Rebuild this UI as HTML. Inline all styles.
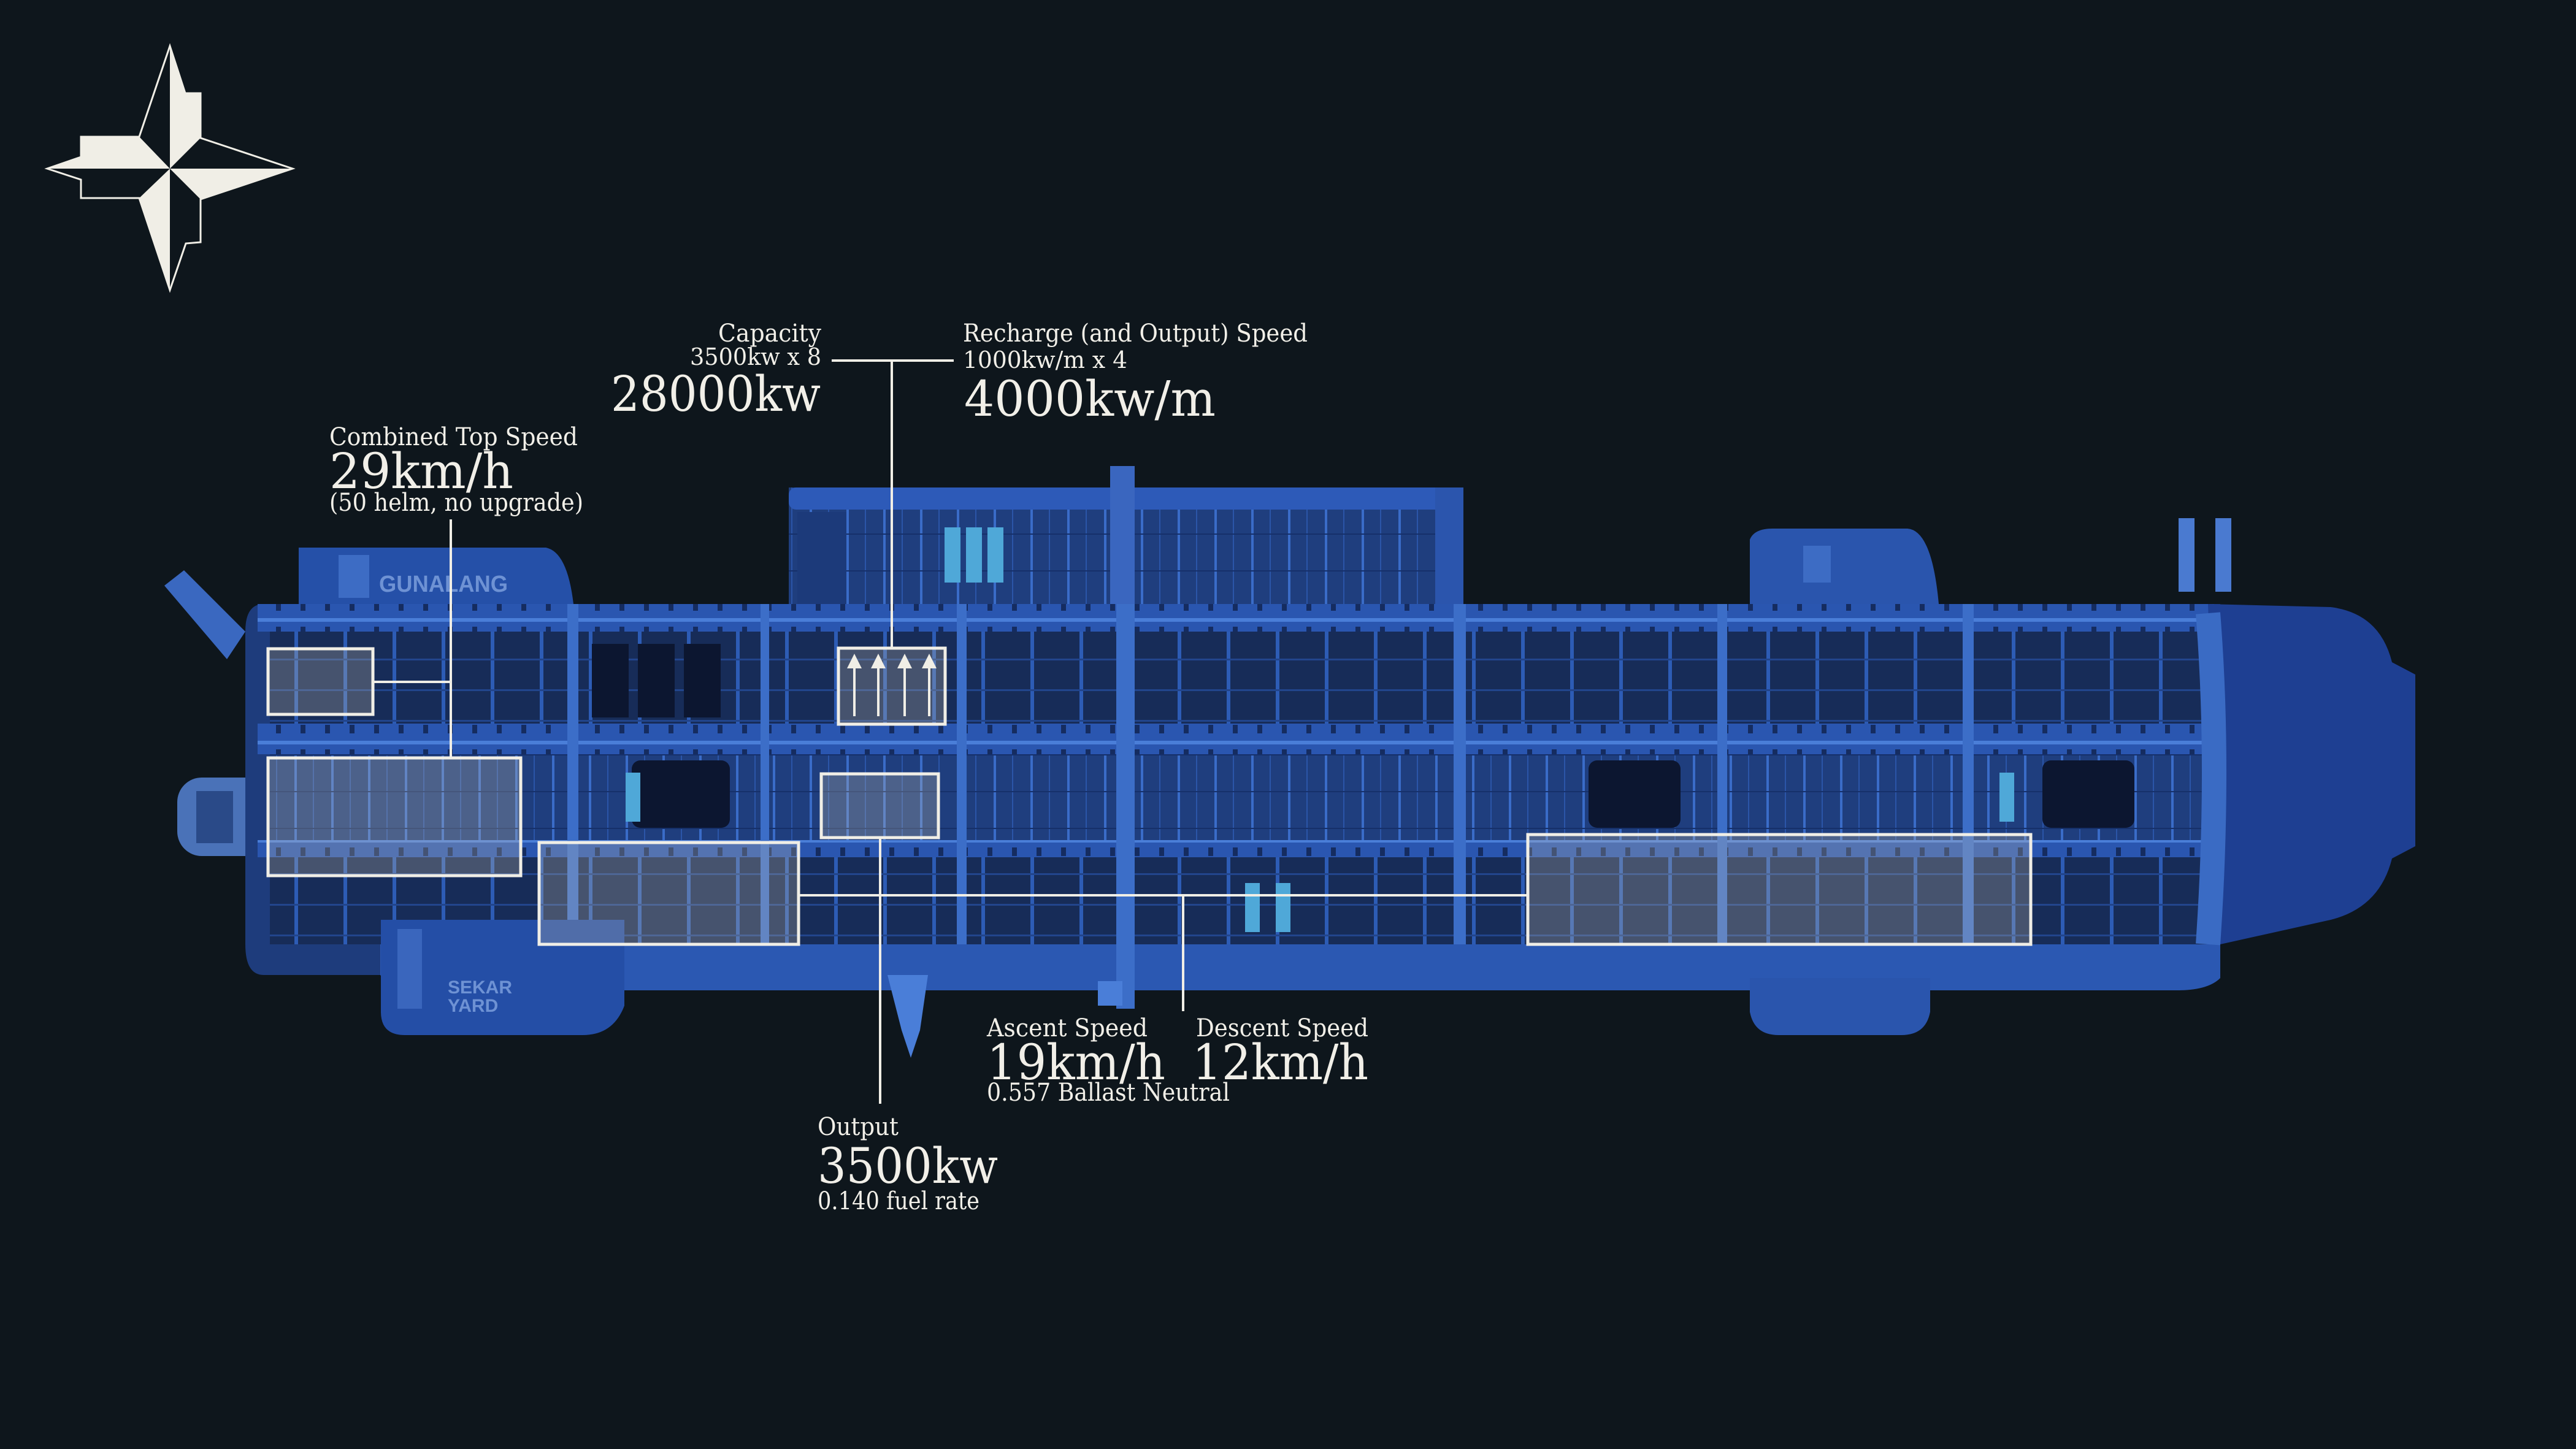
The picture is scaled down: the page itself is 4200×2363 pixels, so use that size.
<!DOCTYPE html>
<html><head><meta charset="utf-8"><style>
html,body{margin:0;padding:0;background:#0e161c;}
svg{display:block}
text{font-family:"DejaVu Serif","Liberation Serif",serif;fill:#f1efe8}
</style></head><body>
<svg width="4200" height="2363" viewBox="0 0 4200 2363" xmlns="http://www.w3.org/2000/svg">
<defs>
<pattern id="room" width="60" height="60" patternUnits="userSpaceOnUse">
<rect width="60" height="60" fill="#1f3e7e"/>
<rect x="0" y="0" width="4" height="60" fill="#3a6cc8"/>
<rect x="30" y="0" width="2" height="60" fill="#2b55a8"/>
<rect x="0" y="30" width="60" height="2" fill="#16306a"/>
</pattern>
<pattern id="rail" width="40" height="40" patternUnits="userSpaceOnUse">
<rect width="40" height="40" fill="#2a56b0"/>
<rect x="0" y="8" width="40" height="6" fill="#4a7ed8"/>
<rect x="10" y="22" width="8" height="14" fill="#152c60"/>
</pattern>
<pattern id="dark" width="80" height="50" patternUnits="userSpaceOnUse">
<rect width="80" height="50" fill="#172c58"/>
<rect x="0" y="0" width="6" height="50" fill="#2d5cb5"/>
<rect x="0" y="24" width="80" height="3" fill="#22458c"/>
</pattern>
<marker id="ah" markerWidth="6" markerHeight="6" refX="3" refY="3" orient="auto"><path d="M0,0 L6,3 L0,6 Z" fill="#f0eee6"/></marker>
</defs>
<rect width="4200" height="2363" fill="#0e161c"/>

<!-- compass -->
<g>
<polygon points="277,75 302,152 327,152 327,225 477,275 327,325 327,395 303,397 277,473 227,323 132,323 132,293 77,275 132,256 132,223 227,223" fill="none" stroke="#f0eee6" stroke-width="3" stroke-linejoin="miter"/>
<polygon points="277,75 302,152 327,152 327,225 277,275" fill="#f0eee6"/>
<polygon points="277,275 477,275 327,325" fill="#f0eee6"/>
<polygon points="277,275 227,323 277,473" fill="#f0eee6"/>
<polygon points="277,275 227,223 132,223 132,256 77,275" fill="#f0eee6"/>
</g>

<!-- ship -->
<g>
<polygon points="268,955 300,930 400,1030 370,1075" fill="#3a68c0"/>
<rect x="289" y="1268" width="150" height="128" rx="40" fill="#4a72b8"/>
<rect x="320" y="1290" width="60" height="85" fill="#2a4a88"/>
<path d="M487,985 L487,893 L890,893 Q925,900 935,985 Z" fill="#2550a8"/>
<rect x="552" y="905" width="50" height="70" fill="#3d6cc4"/>
<text x="618" y="965" style="font-family:'Liberation Sans',sans-serif;font-weight:bold;fill:#6e92d4" font-size="38" textLength="210" lengthAdjust="spacingAndGlyphs">GUNALANG</text>
<rect x="1286" y="795" width="1100" height="200" fill="url(#room)"/>
<rect x="1286" y="795" width="1100" height="36" rx="12" fill="#2d5ab8"/>
<rect x="1300" y="835" width="80" height="150" fill="#1c3a7a"/>
<rect x="1810" y="760" width="40" height="235" fill="#3a66bf"/>
<rect x="2340" y="795" width="46" height="190" fill="#2b55ad"/>
<path d="M2853,985 L2853,880 Q2860,862 2890,862 L3110,862 Q3150,865 3161,985 Z" fill="#2a55ad"/>
<rect x="2940" y="890" width="45" height="60" fill="#3d6cc4"/>
<rect x="3552" y="845" width="26" height="120" fill="#4a7ad0"/>
<rect x="3612" y="845" width="26" height="120" fill="#4a7ad0"/>
<path d="M430,985 L3620,985 L3620,1590 L430,1590 Q400,1590 400,1540 L400,1030 Q400,985 430,985 Z" fill="#1e3c7c"/>
<rect x="420" y="985" width="3190" height="45" fill="url(#rail)"/>
<rect x="440" y="1030" width="3160" height="150" fill="url(#dark)"/>
<rect x="420" y="1180" width="3190" height="50" fill="url(#rail)"/>
<rect x="440" y="1230" width="3160" height="140" fill="url(#room)"/>
<rect x="420" y="1370" width="3190" height="28" fill="url(#rail)"/>
<rect x="440" y="1398" width="3160" height="142" fill="url(#dark)"/>
<path d="M620,1540 L3620,1540 L3620,1595 Q3600,1615 3550,1615 L700,1615 Q640,1615 620,1590 Z" fill="#2b58b2"/>
<g fill="#3c6ec8">
<rect x="925" y="985" width="18" height="555"/><rect x="1240" y="985" width="14" height="555"/>
<rect x="1560" y="985" width="16" height="555"/><rect x="1820" y="985" width="30" height="660"/>
<rect x="2370" y="985" width="20" height="555"/><rect x="2800" y="985" width="16" height="555"/>
<rect x="3200" y="985" width="18" height="555"/>
</g>
<g fill="#0c1630">
<rect x="965" y="1050" width="60" height="120"/><rect x="1040" y="1050" width="60" height="120"/><rect x="1115" y="1050" width="60" height="120"/>
<rect x="1030" y="1240" width="160" height="110" rx="14"/>
<rect x="2590" y="1240" width="150" height="110" rx="14"/>
<rect x="3330" y="1240" width="150" height="110" rx="14"/>
</g>
<g fill="#4fa8d8">
<rect x="1540" y="860" width="26" height="90"/><rect x="1575" y="860" width="26" height="90"/><rect x="1610" y="860" width="26" height="90"/>
<rect x="1020" y="1260" width="24" height="80"/><rect x="3260" y="1260" width="24" height="80"/>
<rect x="2030" y="1440" width="24" height="80"/><rect x="2080" y="1440" width="24" height="80"/>
</g>
<path d="M3600,985 L3800,990 Q3880,1000 3900,1080 L3938,1100 L3938,1380 L3900,1400 Q3880,1480 3800,1500 L3620,1540 Z" fill="#1e3f92"/>
<path d="M3600,1000 Q3620,1250 3600,1540" stroke="#3a6bc4" stroke-width="40" fill="none"/>
<path d="M621,1500 L1018,1500 L1018,1640 Q1000,1688 950,1688 L660,1688 Q621,1688 621,1650 Z" fill="#244ea6"/>
<rect x="648" y="1515" width="40" height="130" fill="#3a66bd"/>
<text x="730" y="1620" style="font-family:'Liberation Sans',sans-serif;font-weight:bold;fill:#6e92d4" font-size="30">SEKAR</text>
<text x="730" y="1650" style="font-family:'Liberation Sans',sans-serif;font-weight:bold;fill:#6e92d4" font-size="30">YARD</text>
<path d="M2853,1595 L3147,1595 L3147,1650 Q3140,1688 3100,1688 L2900,1688 Q2860,1688 2853,1650 Z" fill="#2a55ad"/>
<polygon points="1447,1590 1513,1590 1500,1680 1485,1725 1470,1680" fill="#4a7ed8"/>
<rect x="1790" y="1600" width="40" height="40" fill="#4a7ed8"/>
</g>

<!-- highlight boxes -->
<g stroke="#f0eee6" stroke-width="5" fill="rgba(220,210,180,0.24)">
<rect x="437" y="1058" width="171" height="107"/>
<rect x="437" y="1236" width="412" height="192"/>
<rect x="879" y="1374" width="423" height="166"/>
<rect x="1367" y="1057" width="174" height="124"/>
<rect x="1339" y="1262" width="191" height="104"/>
<rect x="2491" y="1361" width="820" height="179"/>
</g>
<g stroke="#f0eee6" stroke-width="4" fill="none" marker-end="url(#ah)">
<line x1="1393" y1="1168" x2="1393" y2="1078"/><line x1="1432" y1="1168" x2="1432" y2="1078"/>
<line x1="1475" y1="1168" x2="1475" y2="1078"/><line x1="1515" y1="1168" x2="1515" y2="1078"/>
</g>
<g stroke="#f0eee6" stroke-width="4" fill="none">
<line x1="1356" y1="588" x2="1555" y2="588"/>
<line x1="1454" y1="588" x2="1454" y2="1057"/>
<line x1="735" y1="847" x2="735" y2="1236"/>
<line x1="608" y1="1112" x2="735" y2="1112"/>
<line x1="1435" y1="1366" x2="1435" y2="1800"/>
<line x1="1302" y1="1460" x2="2491" y2="1460"/>
<line x1="1929" y1="1460" x2="1929" y2="1649"/>
</g>

<!-- labels -->
<text x="1339" y="557" text-anchor="end" font-size="40" textLength="168" lengthAdjust="spacingAndGlyphs">Capacity</text>
<text x="1339" y="595" text-anchor="end" font-size="38" textLength="214" lengthAdjust="spacingAndGlyphs">3500kw x 8</text>
<text x="996" y="670" font-size="80" textLength="342" lengthAdjust="spacingAndGlyphs">28000kw</text>
<text x="1570" y="557" font-size="40" textLength="562" lengthAdjust="spacingAndGlyphs">Recharge (and Output) Speed</text>
<text x="1570" y="600" font-size="38" textLength="268" lengthAdjust="spacingAndGlyphs">1000kw/m x 4</text>
<text x="1572" y="678" font-size="80" textLength="410" lengthAdjust="spacingAndGlyphs">4000kw/m</text>
<text x="537" y="726" font-size="40" textLength="405" lengthAdjust="spacingAndGlyphs">Combined Top Speed</text>
<text x="537" y="796" font-size="80" textLength="300" lengthAdjust="spacingAndGlyphs">29km/h</text>
<text x="537" y="833" font-size="40" textLength="414" lengthAdjust="spacingAndGlyphs">(50 helm, no upgrade)</text>
<text x="1609" y="1690" font-size="40" textLength="262" lengthAdjust="spacingAndGlyphs">Ascent Speed</text>
<text x="1609" y="1760" font-size="80" textLength="291" lengthAdjust="spacingAndGlyphs">19km/h</text>
<text x="1609" y="1795" font-size="40" textLength="396" lengthAdjust="spacingAndGlyphs">0.557 Ballast Neutral</text>
<text x="1950" y="1690" font-size="40" textLength="281" lengthAdjust="spacingAndGlyphs">Descent Speed</text>
<text x="1944" y="1760" font-size="80" textLength="287" lengthAdjust="spacingAndGlyphs">12km/h</text>
<text x="1333" y="1851" font-size="40" textLength="132" lengthAdjust="spacingAndGlyphs">Output</text>
<text x="1333" y="1929" font-size="80" textLength="294" lengthAdjust="spacingAndGlyphs">3500kw</text>
<text x="1333" y="1972" font-size="40" textLength="264" lengthAdjust="spacingAndGlyphs">0.140 fuel rate</text>
</svg>
</body></html>
